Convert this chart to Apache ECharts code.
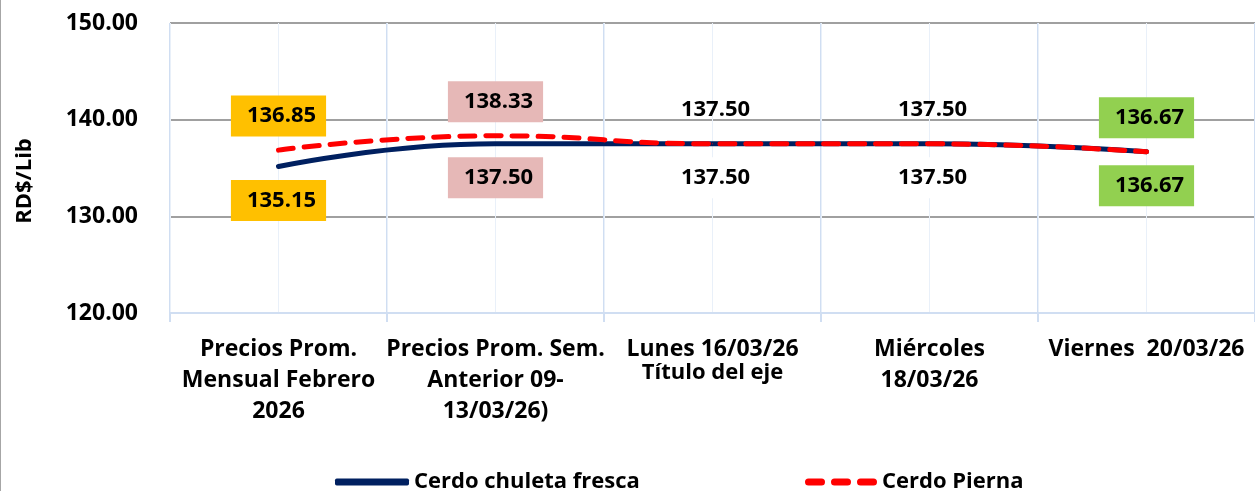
<!DOCTYPE html>
<html>
<head>
<meta charset="utf-8">
<script src="https://cdn.jsdelivr.net/npm/echarts@6/dist/echarts.min.js"></script>
<style>
    html, body { margin: 0; padding: 0; background: #fff; }
    #chart { width: 1255px; height: 491px; box-sizing: border-box; border-left: 1px solid #a6a6a6; }
</style>
</head>
<body>
<div id="chart"></div>
<script>
// categories and values
const categories = [
    'Precios Prom.\nMensual Febrero\n2026',
    'Precios Prom. Sem.\nAnterior 09-\n13/03/26)',
    'Lunes 16/03/26',
    'Miércoles\n18/03/26',
    'Viernes  20/03/26'
];
const chuleta = [135.15, 137.50, 137.50, 137.50, 136.67];
const pierna = [136.85, 138.33, 137.50, 137.50, 136.67];
const yTicks = [120, 130, 140, 150];

// label box colours per category (null = no box)
const boxColors = ['#FFC000', '#E6B8B7', null, null, '#92D050'];

const FONT = '"Open Sans", sans-serif';

function labelled(values, position) {
    return values.map((v, i) => ({
        value: v,
        label: {
            show: true,
            position: position,
            distance: 13,
            formatter: p => Number(p.value).toFixed(2),
            fontFamily: FONT,
            fontWeight: 'bold',
            fontSize: 22,
            lineHeight: 23,
            color: '#000',
            padding: [9, 10, 9, 16],
            backgroundColor: boxColors[i] || (position === 'bottom' ? '#fff' : 'transparent')
        }
    }));
}

// three rounded dashes for the legend of the dashed series
const dash = x => 'M' + (x + 3.5) + ',0h13a3.5,3.5 0 0 1 0,7h-13a3.5,3.5 0 0 1 0,-7z';
const dashIcon = 'path://' + dash(0) + dash(26) + dash(52);

const legendText = { fontFamily: FONT, fontWeight: 'bold', fontSize: 22, color: '#000' };

const chart = echarts.init(document.getElementById('chart'));
const options = {
    animation: false,
    grid: { left: 169, right: 0, top: 23, bottom: 178 },
    graphic: [
        {
            type: 'text',
            x: 24, y: 181,
            rotation: Math.PI / 2,
            style: {
                text: 'RD$/Lib',
                align: 'center', verticalAlign: 'middle',
                font: 'bold 22px "Open Sans", sans-serif',
                fill: '#000'
            }
        }
    ],
    legend: [
        {
            data: [{ name: 'Cerdo chuleta fresca', icon: 'roundRect' }],
            left: 329, top: 466,
            itemWidth: 74, itemHeight: 7,
            textStyle: legendText
        },
        {
            data: [{ name: 'Cerdo Pierna', icon: dashIcon }],
            left: 799, top: 466,
            itemWidth: 72, itemHeight: 7,
            textStyle: legendText
        }
    ],
    xAxis: [
        {
            type: 'category',
            data: categories,
            boundaryGap: true,
            name: 'Título del eje',
            nameLocation: 'middle',
            nameGap: 49,
            nameMoveOverlap: false,
            nameTextStyle: { fontFamily: FONT, fontWeight: 'bold', fontSize: 22, color: '#000' },
            axisLine: { lineStyle: { color: '#D0DEF2', width: 2 } },
            axisTick: { show: true, length: 9, lineStyle: { color: '#D0DEF2', width: 2 } },
            splitLine: { show: true, lineStyle: { color: '#D0DEF2', width: 2 } },
            axisLabel: {
                interval: 0,
                margin: 21,
                fontFamily: FONT, fontWeight: 'bold', fontSize: 23, color: '#000',
                lineHeight: 31
            }
        },
        {
            type: 'category',
            data: ['', '', '', '', '', '', '', '', '', ''],
            boundaryGap: true,
            show: true,
            axisLine: { show: false },
            axisTick: { show: false },
            axisLabel: { show: false },
            splitLine: { show: true, lineStyle: { color: '#E9F0F9', width: 1 } }
        }
    ],
    yAxis: {
        type: 'value',
        min: yTicks[0],
        max: yTicks[yTicks.length - 1],
        interval: 10,
        axisLine: { show: false },
        axisTick: { show: false },
        axisLabel: {
            margin: 32,
            formatter: v => v.toFixed(2),
            fontFamily: FONT, fontWeight: 'bold', fontSize: 23, color: '#000'
        },
        splitLine: { lineStyle: { color: ['#D0DEF2', '#808080', '#808080', '#808080'], width: 1.5 } }
    },
    series: [
        {
            name: 'Cerdo chuleta fresca',
            type: 'line',
            smooth: 0.5,
            symbol: 'circle',
            symbolSize: 1,
            showSymbol: true,
            lineStyle: { color: '#002060', width: 5, cap: 'round' },
            itemStyle: { color: '#002060' },
            data: labelled(chuleta, 'bottom'),
            z: 3
        },
        {
            name: 'Cerdo Pierna',
            type: 'line',
            smooth: 0.5,
            symbol: 'circle',
            symbolSize: 1,
            showSymbol: true,
            lineStyle: { color: '#FF0000', width: 5, type: [15, 11], cap: 'round' },
            itemStyle: { color: '#FF0000' },
            data: labelled(pierna, 'top'),
            z: 4
        }
    ]
};

chart.setOption(options);
</script>
</body>
</html>
